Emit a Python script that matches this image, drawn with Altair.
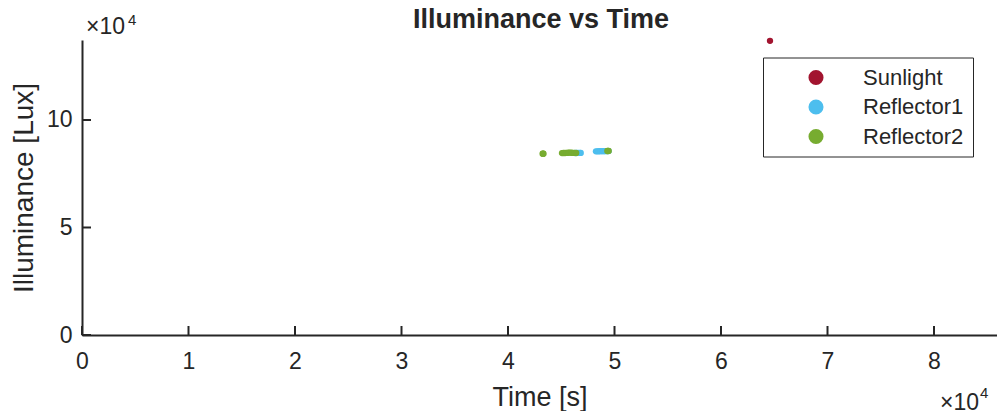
import altair as alt
import pandas as pd

FONT = "Liberation Sans"
INK = "#262626"

series = ["Sunlight", "Reflector1", "Reflector2"]
colors = ["#A2142F", "#4DBEEE", "#77AC30"]

sun_t = [64600]
sun_lux = [136800]

ref1_t = [46300, 46450, 46600, 46750, 46830, 48260, 48400, 48550, 48700,
          48850, 49000, 49150, 49300, 49450]
ref1_lux = [84650, 84680, 84700, 84720, 84700, 85420, 85440, 85460, 85480,
            85480, 85500, 85500, 85520, 85520]

ref2_t = [43250, 43290, 43330, 45070, 45200, 45350, 45500, 45650, 45800,
          45950, 46100, 46250, 46400, 49330, 49390, 49450]
ref2_lux = [84330, 84330, 84330, 84620, 84640, 84660, 84700, 84760, 84800,
            84760, 84700, 84680, 84660, 85560, 85580, 85600]

x_ticks = [0, 10000, 20000, 30000, 40000, 50000, 60000, 70000, 80000]
y_ticks = [0, 50000, 100000]
x_max = 85915
y_max = 137200

rows = []
for name, ts, ls in [("Sunlight", sun_t, sun_lux),
                     ("Reflector1", ref1_t, ref1_lux),
                     ("Reflector2", ref2_t, ref2_lux)]:
    for t, l in zip(ts, ls):
        rows.append({"t": t, "lux": l, "series": name})
df = pd.DataFrame(rows)

W, H = 915, 295
xs = alt.Scale(domain=[0, x_max], nice=False, zero=False)
ys = alt.Scale(domain=[0, y_max], nice=False, zero=False)

x_axis = alt.Axis(values=x_ticks, labelExpr="datum.value / 10000", title="Time [s]",
                  ticks=False, grid=False, domainColor=INK, domainWidth=2,
                  labelFontSize=23, labelPadding=15, labelFont=FONT, labelColor=INK,
                  labelFlush=False, labelOverlap=False,
                  titleFontSize=27, titleFontWeight="normal", titleFont=FONT,
                  titleColor=INK, titleBaseline="alphabetic", titleY=70)
y_axis = alt.Axis(values=y_ticks, labelExpr="datum.value / 10000", title="Illuminance [Lux]",
                  ticks=False, grid=False, domainColor=INK, domainWidth=2,
                  labelFontSize=23, labelPadding=10, labelFont=FONT, labelColor=INK,
                  labelFlush=False, labelOverlap=False,
                  titleFontSize=28, titleFontWeight="normal", titleFont=FONT,
                  titleColor=INK, titleBaseline="alphabetic", titleX=-50)

points = alt.Chart(df).mark_circle(size=40, opacity=1).encode(
    x=alt.X("t:Q", scale=xs, axis=x_axis),
    y=alt.Y("lux:Q", scale=ys, axis=y_axis),
    color=alt.Color("series:N", scale=alt.Scale(domain=series, range=colors),
                    legend=alt.Legend(title=None, orient="none", legendX=681, legendY=17.5,
                                      direction="vertical", strokeColor=INK, fillColor="white",
                                      padding=9, symbolSize=227, symbolType="circle",
                                      symbolStrokeWidth=0, symbolOffset=33, labelOffset=36,
                                      labelFontSize=22, labelFont=FONT, labelColor=INK,
                                      rowPadding=7.5, symbolOpacity=1)),
)

xt = alt.Chart(pd.DataFrame({"t": x_ticks})).mark_rule(color=INK, strokeWidth=2).encode(
    x=alt.X("t:Q", scale=xs), y=alt.value(H), y2=alt.value(H - 9))
yt = alt.Chart(pd.DataFrame({"lux": y_ticks})).mark_rule(color=INK, strokeWidth=2).encode(
    y=alt.Y("lux:Q", scale=ys), x=alt.value(0), x2=alt.value(9))

one = pd.DataFrame({"k": [0]})

def label(txt, x, y, size, align="left", weight="normal"):
    return alt.Chart(one).mark_text(text=txt, font=FONT, fontSize=size, color=INK,
                                    align=align, baseline="alphabetic",
                                    fontWeight=weight).encode(
        x=alt.value(x), y=alt.value(y))

title = label("Illuminance vs Time", 459, -12.5, 27, align="center", weight="bold")
ex1 = label("×10", 4, -6.5, 23)
ex1s = label("4", 46, -15.5, 15)
ex2 = label("×10", 897, 369.5, 23, align="right")
ex2s = label("4", 898, 357.5, 15)

chart = alt.layer(points, xt, yt, title, ex1, ex1s, ex2, ex2s).properties(
    width=W, height=H,
    autosize=alt.AutoSizeParams(type="none"),
    padding={"left": 74, "top": 32, "right": 0, "bottom": 76},
).configure_view(stroke=None)

chart.save("out.html", embed_options={"renderer": "svg", "actions": False})
